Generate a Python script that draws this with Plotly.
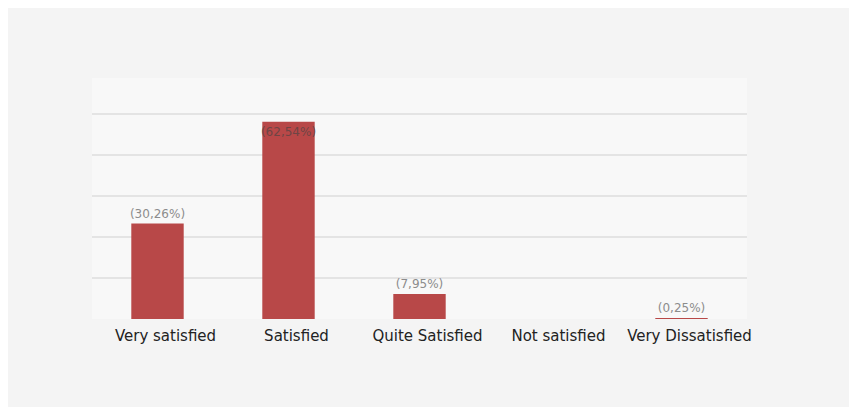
import plotly.graph_objects as go

categories = ["Very satisfied", "Satisfied", "Quite Satisfied", "Not satisfied", "Very Dissatisfied"]
values = [30.26, 62.54, 7.95, 0, 0.25]
labels = ["(30,26%)", "(62,54%)", "(7,95%)", "", "(0,25%)"]
label_pos = ["outside", "inside", "outside", "none", "outside"]
grid_vals = [13, 26, 39, 52, 65]

fig = go.Figure()
fig.add_trace(go.Bar(
    x=categories, y=values, text=labels, textposition=label_pos,
    insidetextanchor="end", cliponaxis=False, textangle=0,
    constraintext="none",
    marker=dict(color="#b84848", line=dict(width=0)),
    insidetextfont=dict(family="DejaVu Sans", size=12, color="#6e4545"),
    outsidetextfont=dict(family="DejaVu Sans", size=12, color="#8c8c8c"),
    width=0.4,
))

fig.update_layout(
    width=857, height=407,
    margin=dict(l=84, r=118, t=70, b=96),
    paper_bgcolor="#f4f4f4", plot_bgcolor="#f8f8f8",
    showlegend=False,
    font=dict(family="DejaVu Sans", size=15, color="#222222"),
    xaxis=dict(showgrid=False, zeroline=False, showline=False, ticks="",
               ticklabelshift=8, ticklabelstandoff=6,
               tickfont=dict(family="DejaVu Sans", size=15, color="#222222")),
    yaxis=dict(range=[0, 76.4], tickmode="array", tickvals=grid_vals,
               showticklabels=False, showgrid=True, gridcolor="#e4e4e4",
               gridwidth=2, zeroline=False, showline=False),
)

fig.write_html("out.html")
